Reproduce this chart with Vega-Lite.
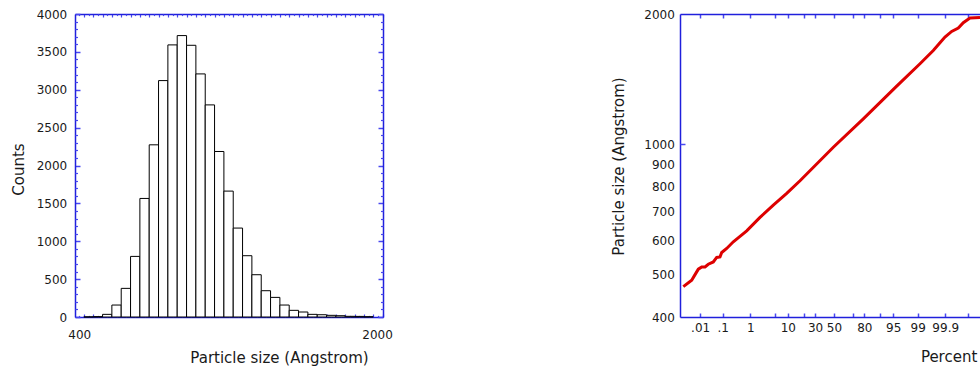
{
  "$schema": "https://vega.github.io/schema/vega-lite/v6.json",
  "background": "white",
  "padding": {"left": 11, "top": 8, "right": 0, "bottom": 0},
  "config": {
    "font": "DejaVu Sans",
    "view": {"stroke": null},
    "axis": {
      "labelFont": "DejaVu Sans", "labelFontSize": 12, "labelColor": "#1a1a1a",
      "titleFont": "DejaVu Sans", "titleFontSize": 15, "titleFontWeight": "normal", "titleColor": "#1a1a1a",
      "grid": false, "zindex": 1, "domainColor": "#2020dc", "domainWidth": 1.5,
      "tickColor": "#4848f0", "tickWidth": 1.2, "labelFlush": false, "labelOverlap": false, "format": "d"
    }
  },
  "bounds": "flush",
  "spacing": 297,
  "hconcat": [
    {
      "width": 308,
      "height": 303,
      "data": {"values": [
        {"bin_start": 410.2, "bin_end": 431.4, "count": 2},
        {"bin_start": 431.4, "bin_end": 453.8, "count": 5},
        {"bin_start": 453.8, "bin_end": 477.2, "count": 35},
        {"bin_start": 477.2, "bin_end": 501.9, "count": 158},
        {"bin_start": 501.9, "bin_end": 527.9, "count": 378},
        {"bin_start": 527.9, "bin_end": 555.2, "count": 800},
        {"bin_start": 555.2, "bin_end": 583.9, "count": 1565},
        {"bin_start": 583.9, "bin_end": 614.1, "count": 2273},
        {"bin_start": 614.1, "bin_end": 645.9, "count": 3121},
        {"bin_start": 645.9, "bin_end": 679.3, "count": 3592},
        {"bin_start": 679.3, "bin_end": 714.5, "count": 3715},
        {"bin_start": 714.5, "bin_end": 751.4, "count": 3587},
        {"bin_start": 751.4, "bin_end": 790.3, "count": 3209},
        {"bin_start": 790.3, "bin_end": 831.2, "count": 2800},
        {"bin_start": 831.2, "bin_end": 874.2, "count": 2185},
        {"bin_start": 874.2, "bin_end": 919.4, "count": 1662},
        {"bin_start": 919.4, "bin_end": 967.0, "count": 1174},
        {"bin_start": 967.0, "bin_end": 1017.0, "count": 809},
        {"bin_start": 1017.0, "bin_end": 1069.6, "count": 558},
        {"bin_start": 1069.6, "bin_end": 1124.9, "count": 347},
        {"bin_start": 1124.9, "bin_end": 1183.1, "count": 259},
        {"bin_start": 1183.1, "bin_end": 1244.3, "count": 158},
        {"bin_start": 1244.3, "bin_end": 1308.7, "count": 88},
        {"bin_start": 1308.7, "bin_end": 1376.4, "count": 66},
        {"bin_start": 1376.4, "bin_end": 1447.6, "count": 35},
        {"bin_start": 1447.6, "bin_end": 1522.5, "count": 30},
        {"bin_start": 1522.5, "bin_end": 1601.2, "count": 22},
        {"bin_start": 1601.2, "bin_end": 1684.1, "count": 17},
        {"bin_start": 1684.1, "bin_end": 1771.2, "count": 9},
        {"bin_start": 1771.2, "bin_end": 1862.8, "count": 8},
        {"bin_start": 1862.8, "bin_end": 1959.2, "count": 4}
      ]},
      "resolve": {"axis": {"x": "independent", "y": "independent"}},
      "layer": [
        {
          "mark": {"type": "bar", "fill": "white", "stroke": "black", "strokeWidth": 1},
          "encoding": {
            "x": {"field": "bin_start", "type": "quantitative",
              "scale": {"type": "log", "domain": [391, 2065.5], "nice": false},
              "axis": {"orient": "bottom", "values": [400, 2000], "ticks": false, "domain": false, "labelPadding": 12,
                "title": "Particle size (Angstrom)", "titleX": 204, "titleY": 45.7, "titleAngle": 0,
                "titleAlign": "center", "titleBaseline": "alphabetic"}},
            "x2": {"field": "bin_end"},
            "y": {"field": "count", "type": "quantitative",
              "scale": {"domain": [0, 4000], "nice": false},
              "axis": {"orient": "left", "values": [0, 500, 1000, 1500, 2000, 2500, 3000, 3500, 4000],
                "tickSize": -5, "tickWidth": 1.5, "labelPadding": 13.3, "domain": true,
                "title": "Counts", "titleX": -51.7, "titleY": 155, "titleAngle": 270,
                "titleAlign": "center", "titleBaseline": "alphabetic"}},
            "y2": {"datum": 0}
          }
        },
        {
          "mark": {"type": "bar", "opacity": 0},
          "encoding": {
            "x": {"field": "bin_start", "type": "quantitative",
              "scale": {"type": "log", "domain": [391, 2065.5], "nice": false},
              "axis": {"orient": "bottom", "values": [410.2, 431.4, 453.8, 477.2, 501.9, 527.9, 555.2, 583.9, 614.1, 645.9, 679.3, 714.5, 751.4, 790.3, 831.2, 874.2, 919.4, 967.0, 1017.0, 1069.6, 1124.9, 1183.1, 1244.3, 1308.7, 1376.4, 1447.6, 1522.5, 1601.2, 1684.1, 1771.2, 1862.8, 1959.2, 2060.5],
                "tickSize": -3, "labels": false, "domain": true, "title": null}},
            "x2": {"field": "bin_end"},
            "y": {"field": "count", "type": "quantitative",
              "scale": {"domain": [0, 4000], "nice": false},
              "axis": {"orient": "left", "values": [100, 200, 300, 400, 600, 700, 800, 900, 1100, 1200, 1300, 1400, 1600, 1700, 1800, 1900, 2100, 2200, 2300, 2400, 2600, 2700, 2800, 2900, 3100, 3200, 3300, 3400, 3600, 3700, 3800, 3900],
                "tickSize": -2.5, "labels": false, "domain": false, "title": null}},
            "y2": {"datum": 0}
          }
        },
        {
          "mark": {"type": "bar", "opacity": 0},
          "encoding": {
            "x": {"field": "bin_start", "type": "quantitative",
              "scale": {"type": "log", "domain": [391, 2065.5], "nice": false},
              "axis": {"orient": "bottom", "values": [400, 420.7, 442.5, 465.4, 489.4, 514.7, 541.4, 569.4, 598.8, 629.8, 662.4, 696.7, 732.7, 770.6, 810.5, 852.4, 896.5, 942.9, 991.6, 1043.0, 1096.9, 1153.7, 1213.3, 1276.1, 1342.1, 1411.6, 1484.6, 1561.4, 1642.1, 1727.1, 1816.4, 1910.4, 2009.2],
                "tickSize": -1.6, "labels": false, "domain": false, "title": null}},
            "x2": {"field": "bin_end"},
            "y": {"field": "count", "type": "quantitative",
              "scale": {"domain": [0, 4000], "nice": false},
              "axis": {"orient": "right", "values": [0, 500, 1000, 1500, 2000, 2500, 3000, 3500, 4000],
                "tickSize": -5, "tickWidth": 1.5, "labels": false, "domain": true, "title": null}},
            "y2": {"datum": 0}
          }
        },
        {
          "mark": {"type": "bar", "opacity": 0},
          "encoding": {
            "x": {"field": "bin_start", "type": "quantitative",
              "scale": {"type": "log", "domain": [391, 2065.5], "nice": false},
              "axis": {"orient": "top", "values": [410.2, 431.4, 453.8, 477.2, 501.9, 527.9, 555.2, 583.9, 614.1, 645.9, 679.3, 714.5, 751.4, 790.3, 831.2, 874.2, 919.4, 967.0, 1017.0, 1069.6, 1124.9, 1183.1, 1244.3, 1308.7, 1376.4, 1447.6, 1522.5, 1601.2, 1684.1, 1771.2, 1862.8, 1959.2, 2060.5],
                "tickSize": -3, "labels": false, "domain": true, "title": null}},
            "x2": {"field": "bin_end"},
            "y": {"field": "count", "type": "quantitative",
              "scale": {"domain": [0, 4000], "nice": false},
              "axis": {"orient": "right", "values": [100, 200, 300, 400, 600, 700, 800, 900, 1100, 1200, 1300, 1400, 1600, 1700, 1800, 1900, 2100, 2200, 2300, 2400, 2600, 2700, 2800, 2900, 3100, 3200, 3300, 3400, 3600, 3700, 3800, 3900],
                "tickSize": -2.5, "labels": false, "domain": false, "title": null}},
            "y2": {"datum": 0}
          }
        },
        {
          "mark": {"type": "bar", "opacity": 0},
          "encoding": {
            "x": {"field": "bin_start", "type": "quantitative",
              "scale": {"type": "log", "domain": [391, 2065.5], "nice": false},
              "axis": {"orient": "top", "values": [400, 420.7, 442.5, 465.4, 489.4, 514.7, 541.4, 569.4, 598.8, 629.8, 662.4, 696.7, 732.7, 770.6, 810.5, 852.4, 896.5, 942.9, 991.6, 1043.0, 1096.9, 1153.7, 1213.3, 1276.1, 1342.1, 1411.6, 1484.6, 1561.4, 1642.1, 1727.1, 1816.4, 1910.4, 2009.2],
                "tickSize": -1.6, "labels": false, "domain": false, "title": null}},
            "x2": {"field": "bin_end"},
            "y": {"field": "count", "type": "quantitative",
              "scale": {"domain": [0, 4000], "nice": false}, "axis": null},
            "y2": {"datum": 0}
          }
        }
      ]
    },
    {
      "width": 300,
      "height": 303,
      "data": {"values": [
        {"z": -4.186, "size": 470.1}, {"z": -3.953, "size": 486.4}, {"z": -3.881, "size": 497.6},
        {"z": -3.769, "size": 515.7}, {"z": -3.675, "size": 522.0}, {"z": -3.583, "size": 522.0},
        {"z": -3.492, "size": 529.4}, {"z": -3.353, "size": 535.9}, {"z": -3.258, "size": 548.8},
        {"z": -3.167, "size": 550.4}, {"z": -3.119, "size": 563.4}, {"z": -2.981, "size": 575.7},
        {"z": -2.797, "size": 596.4}, {"z": -2.611, "size": 613.8}, {"z": -2.425, "size": 632.2},
        {"z": -2.056, "size": 678.9}, {"z": -1.686, "size": 724.9}, {"z": -1.314, "size": 771.4},
        {"z": -0.944, "size": 824.9}, {"z": -0.019, "size": 985.5}, {"z": 0.814, "size": 1145.6},
        {"z": 1.742, "size": 1363.5}, {"z": 2.389, "size": 1535.6}, {"z": 2.758, "size": 1648},
        {"z": 2.944, "size": 1717}, {"z": 3.083, "size": 1770}, {"z": 3.269, "size": 1823},
        {"z": 3.453, "size": 1856.6}, {"z": 3.592, "size": 1909.6}, {"z": 3.778, "size": 1957.9},
        {"z": 4.056, "size": 1964}
      ]},
      "resolve": {"axis": {"x": "independent", "y": "independent"}},
      "layer": [
        {
          "mark": {"type": "line", "color": "#dd0000", "strokeWidth": 3},
          "encoding": {
            "x": {"field": "z", "type": "quantitative",
              "scale": {"domain": [-4.278, 4.056], "nice": false, "zero": false},
              "axis": {"orient": "bottom",
                "values": [-3.719, -3.0902, -2.3263, -1.6449, -1.2816, -0.8416, -0.5244, 0, 0.5244, 0.8416, 1.2816, 1.6449, 2.3263, 3.0902, 3.719],
                "labelExpr": "datum.value < -3.5 ? '.01' : datum.value < -3 ? '.1' : datum.value < -2 ? '1' : datum.value < -1.5 ? '' : datum.value < -1 ? '10' : datum.value < -0.7 ? '' : datum.value < -0.3 ? '30' : datum.value < 0.3 ? '50' : datum.value < 0.7 ? '' : datum.value < 1 ? '80' : datum.value < 1.5 ? '' : datum.value < 2 ? '95' : datum.value < 3 ? '99' : datum.value < 3.5 ? '99.9' : ''",
                "tickSize": -4, "tickWidth": 1.5, "labelPadding": 9.3, "domain": true,
                "title": "Percent", "titleX": 268.6, "titleY": 44, "titleAngle": 0,
                "titleAlign": "center", "titleBaseline": "alphabetic"}},
            "y": {"field": "size", "type": "quantitative",
              "scale": {"type": "log", "domain": [400, 2000], "nice": false},
              "axis": {"orient": "left", "values": [400, 500, 600, 700, 800, 900, 1000, 2000],
                "ticks": false, "labelPadding": 5.7, "domain": true,
                "title": "Particle size (Angstrom)", "titleX": -56.9, "titleY": 152, "titleAngle": 270,
                "titleAlign": "center", "titleBaseline": "alphabetic"}}
          }
        },
        {
          "mark": {"type": "line", "opacity": 0},
          "encoding": {
            "x": {"field": "z", "type": "quantitative",
              "scale": {"domain": [-4.278, 4.056], "nice": false, "zero": false},
              "axis": {"orient": "top",
                "values": [-3.719, -3.0902, -2.3263, -1.6449, -1.2816, -0.8416, -0.5244, 0, 0.5244, 0.8416, 1.2816, 1.6449, 2.3263, 3.0902, 3.719],
                "tickSize": -4, "tickWidth": 1.5, "labels": false, "domain": true, "title": null}},
            "y": {"field": "size", "type": "quantitative",
              "scale": {"type": "log", "domain": [400, 2000], "nice": false},
              "axis": {"orient": "left", "values": [1000], "tickSize": -5, "tickWidth": 1.5,
                "labels": false, "domain": false, "title": null}}
          }
        }
      ]
    }
  ]
}
